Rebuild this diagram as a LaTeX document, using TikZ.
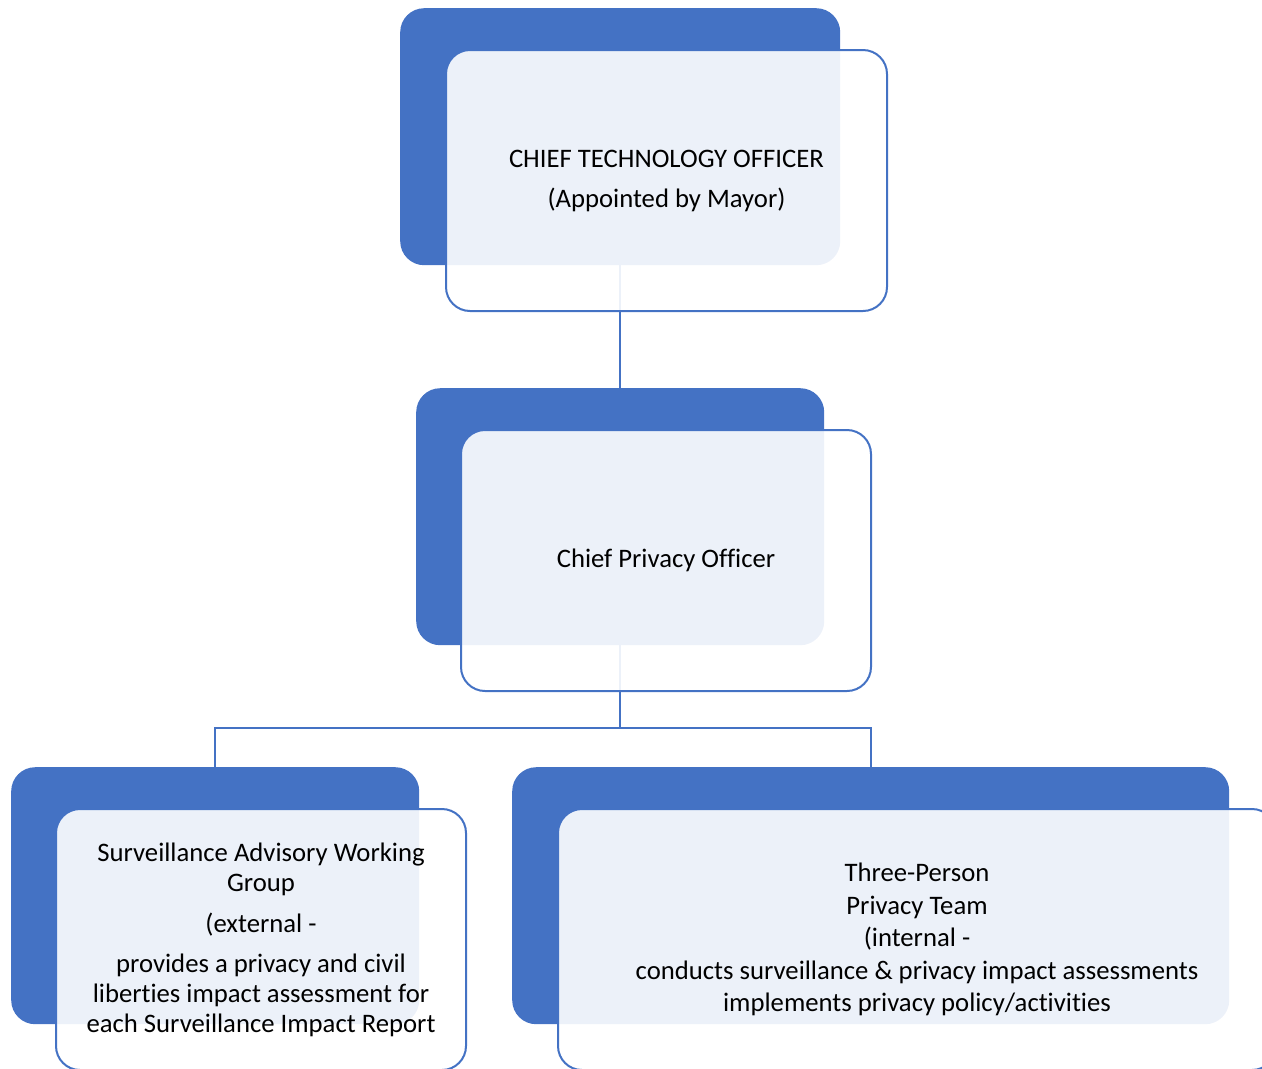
\documentclass[tikz,border=0pt]{standalone}
\usepackage{fontspec}
\setmainfont[Ligatures=NoCommon]{Carlito}
\usetikzlibrary{positioning,calc}
\definecolor{smartblue}{HTML}{4472C4}

\begin{document}
\begin{tikzpicture}[x=1pt,y=-1pt,
  back/.style={fill=smartblue,rounded corners=24pt,inner sep=0pt,minimum height=257pt,anchor=north west},
  front/.style={draw=smartblue,line width=2pt,fill=white,fill opacity=0.9,text opacity=1,
    rounded corners=24pt,inner sep=0pt,minimum height=261pt,anchor=north west,align=center,
    font=\fontsize{26.7}{30}\selectfont},
  link/.style={draw=smartblue,line width=2pt}]
\useasboundingbox (0,0) rectangle (1262,1069);
\clip (0,0) rectangle (1262,1069);
% back boxes
\node[back,minimum width=440pt] (cto) at (400,8) {};
\node[back,minimum width=408pt] (cpo) at (416,388) {};
\node[back,minimum width=408pt] (sawg) at (11,767) {};
\node[back,minimum width=717pt] (team) at (512,767) {};
% connectors
\coordinate (split) at (620,728);
\draw[link] (cto.south) -- (cpo.north);
\draw[link] (cpo.south) -- (cpo.south |- split) -| (sawg.north);
\draw[link] (cpo.south |- split) -| (team.north);
% front boxes
\node[front,minimum width=441pt] (ctotxt) at ($(cto.north west)+(45,41)$)
  {CHIEF TECHNOLOGY OFFICER\\[10pt](Appointed by Mayor)};
\node[front,minimum width=410pt] (cpotxt) at ($(cpo.north west)+(44,41)$)
  {Chief Privacy Officer};
\node[front,minimum width=410pt] (sawgtxt) at ($(sawg.north west)+(44,41)$)
  {Surveillance Advisory Working\\Group\\[11pt](external -\\[10pt]provides a privacy and civil\\liberties impact assessment for\\each Surveillance Impact Report};
\node[front,minimum width=718pt,font=\fontsize{26.7}{32.5}\selectfont] (teamtxt) at ($(team.north west)+(45,41)$)
  {Three-Person\\Privacy Team\\(internal -\\conducts surveillance \& privacy impact assessments\\implements privacy policy/activities};
\end{tikzpicture}
\end{document}
